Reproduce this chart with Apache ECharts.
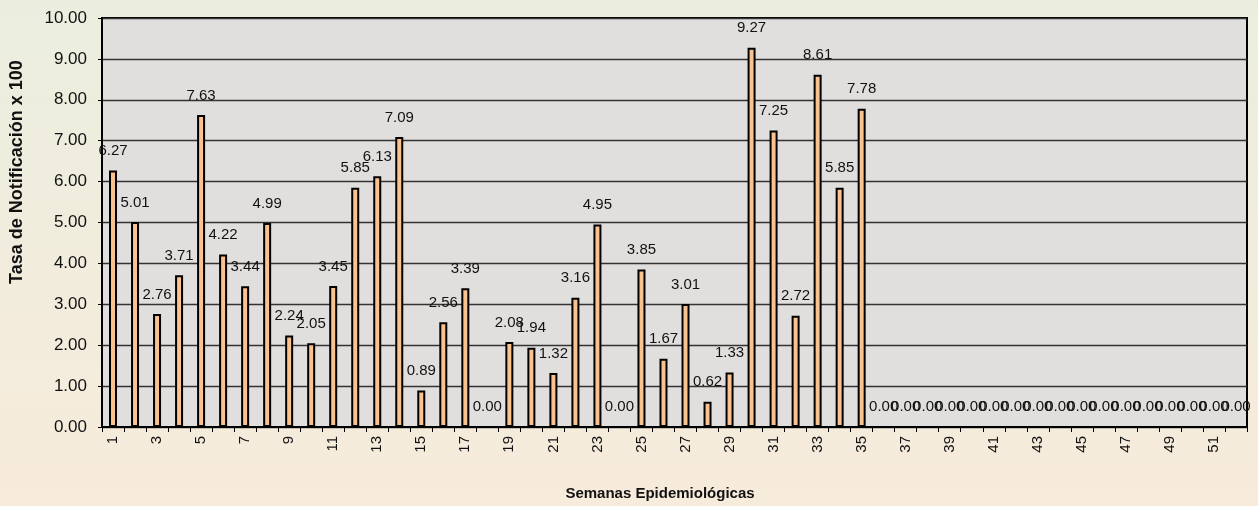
<!DOCTYPE html>
<html>
<head>
<meta charset="utf-8">
<script src="https://cdn.jsdelivr.net/npm/echarts@6/dist/echarts.min.js"></script>
<style>
html,body{margin:0;padding:0;}
#c{width:1258px;height:506px;}
</style>
</head>
<body>
<div id="c"></div>
<script>
const weeks = Array.from({length: 52}, (_, i) => String(i + 1));
const rates = [6.27, 5.01, 2.76, 3.71, 7.63, 4.22, 3.44, 4.99, 2.24, 2.05,
  3.45, 5.85, 6.13, 7.09, 0.89, 2.56, 3.39, 0.00, 2.08, 1.94,
  1.32, 3.16, 4.95, 0.00, 3.85, 1.67, 3.01, 0.62, 1.33, 9.27,
  7.25, 2.72, 8.61, 5.85, 7.78, 0.00, 0.00, 0.00, 0.00, 0.00,
  0.00, 0.00, 0.00, 0.00, 0.00, 0.00, 0.00, 0.00, 0.00, 0.00,
  0.00, 0.00];
const yTitle = 'Tasa de Notificación x 100';
const xTitle = 'Semanas Epidemiológicas';

const chart = echarts.init(document.getElementById('c'));
const font = '"Liberation Sans", Arial, sans-serif';
chart.setOption({
  animation: false,
  backgroundColor: {
    type: 'linear', x: 0, y: 0, x2: 0, y2: 1,
    colorStops: [{offset: 0, color: '#EBEEDF'}, {offset: 1, color: '#F7EBDB'}]
  },
  grid: {
    left: 102, right: 11, top: 18, bottom: 79,
    show: true, backgroundColor: '#E1DFDD', borderColor: '#000', borderWidth: 2
  },
  xAxis: {
    type: 'category', data: weeks,
    axisLine: {lineStyle: {color: '#000', width: 2}},
    axisTick: {show: true, length: 5, lineStyle: {color: '#000', width: 1}, interval: 0},
    axisLabel: {interval: 1, rotate: 90, color: '#111', fontSize: 15, fontFamily: font, margin: 9}
  },
  yAxis: {
    type: 'value', min: 0, max: 10, interval: 1,
    axisLine: {show: true, lineStyle: {color: '#000', width: 2}},
    axisTick: {show: true, length: 4, lineStyle: {color: '#000'}},
    splitLine: {lineStyle: {color: '#333', width: 1.3}},
    axisLabel: {formatter: v => v.toFixed(2), color: '#111', fontSize: 17, fontFamily: font, margin: 15}
  },
  graphic: [
    {type: 'text', x: 17, y: 172, rotation: Math.PI / 2,
      style: {text: yTitle, font: 'bold 18px ' + font, fill: '#111', align: 'center', verticalAlign: 'middle'}},
    {type: 'text', x: 660, y: 494,
      style: {text: xTitle, font: 'bold 15px ' + font, fill: '#111', align: 'center', verticalAlign: 'middle'}}
  ],
  series: [{
    type: 'bar', data: rates, barWidth: 8,
    itemStyle: {color: '#FBC18E', borderColor: '#000', borderWidth: 2},
    label: {show: true, position: 'top', distance: 12, formatter: p => p.value.toFixed(2),
      color: '#111', fontSize: 15, fontFamily: font}
  }]
});
</script>
</body>
</html>
